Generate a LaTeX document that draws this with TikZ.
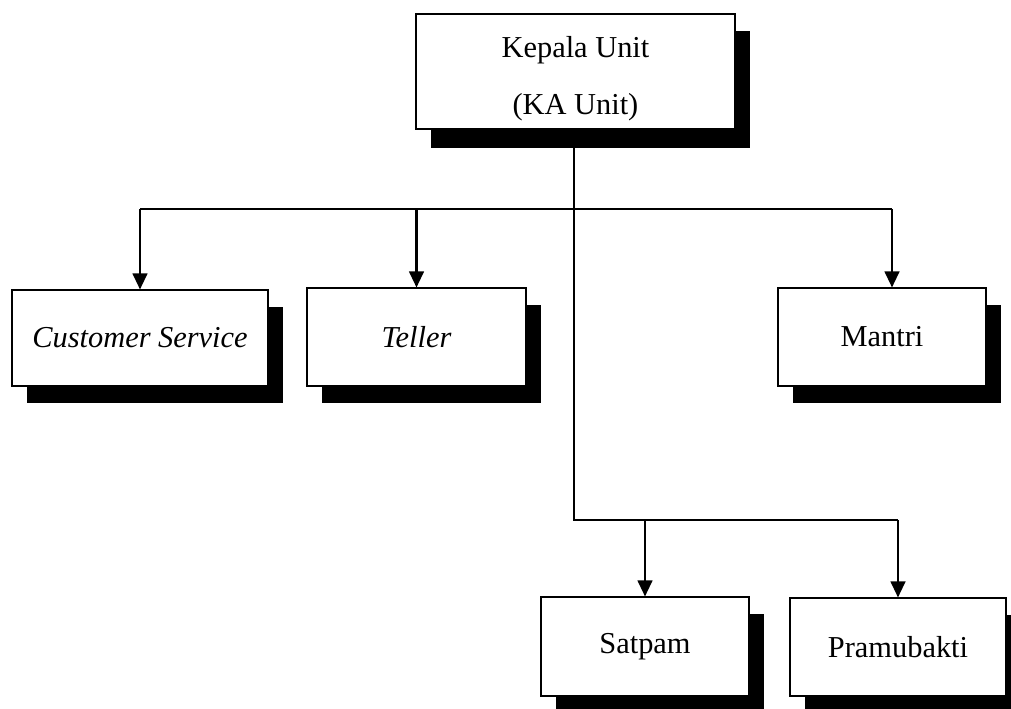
\documentclass[tikz,border=0pt]{standalone}
\usepackage{fontspec}
\setmainfont{Liberation Serif}
\usetikzlibrary{arrows.meta,shadows}

\begin{document}
\begin{tikzpicture}[x=0.75pt,y=-0.75pt,
  unitbox/.style={draw, line width=0.8pt, fill=white, inner sep=0pt,
    font=\fontsize{22.8}{42.75}\selectfont, align=center,
    drop shadow={shadow xshift=11.25pt, shadow yshift=-12.75pt, opacity=1, fill=black}},
  link/.style={line width=0.9pt},
  bus/.style={line width=1.2pt},
  arrowlink/.style={line width=1.6pt, -{Triangle[length=12pt,width=11pt]}}]
\useasboundingbox (0,0) rectangle (1011,709);
% Kepala Unit at the top
\node[unitbox, minimum width=239.25pt, minimum height=86.25pt,
      drop shadow={shadow xshift=11.25pt, shadow yshift=-14.25pt, opacity=1, fill=black}]
      (kepala) at (575.5,71.5) {\rule{0pt}{26pt}Kepala Unit\\(KA Unit)};
% Second row
\node[unitbox, minimum width=192pt, minimum height=72pt] (cs) at (140,338) {\textit{Customer Service}};
\node[unitbox, minimum width=164.25pt, minimum height=73.5pt] (teller) at (416.5,337) {\textit{Teller}};
\node[unitbox, minimum width=156pt, minimum height=73.5pt] (mantri) at (882,337) {Mantri};
% Bottom row
\node[unitbox, minimum width=156pt, minimum height=74.25pt] (satpam) at (645,646.5) {Satpam};
\node[unitbox, minimum width=162pt, minimum height=73.5pt] (pramu) at (898,647) {Pramubakti};
% Junction points
\coordinate (hub) at (574,209);
\coordinate (lower) at (574,520);
% Main trunk and upper bus
\draw[link] (lower |- kepala.south) -- (lower) -- (lower -| pramu.north);
\draw[bus] (cs.north |- hub) -- ([xshift=7.5pt]mantri.north |- hub);
% Arrows to second row
\draw[arrowlink] (cs.north |- hub) -- (cs.north);
\draw[arrowlink] (teller.north |- hub) -- (teller.north);
\draw[arrowlink] ([xshift=7.5pt]mantri.north |- hub) -- ([xshift=7.5pt]mantri.north);
% Arrows to bottom row
\draw[arrowlink] (satpam.north |- lower) -- (satpam.north);
\draw[arrowlink] (pramu.north |- lower) -- (pramu.north);
\end{tikzpicture}
\end{document}
